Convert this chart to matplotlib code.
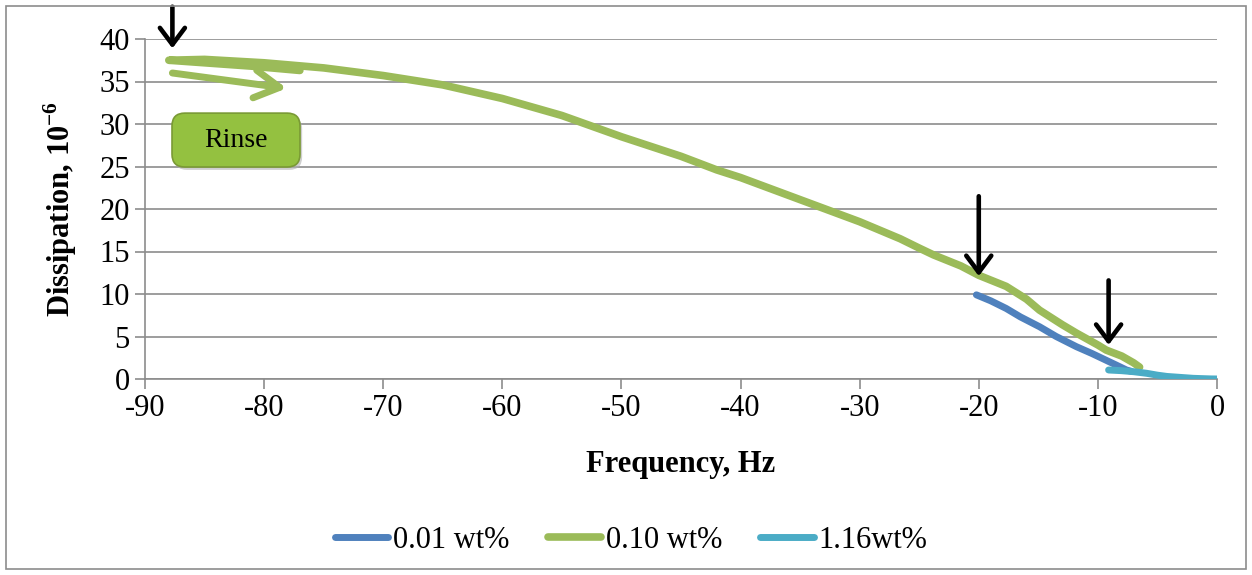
import numpy as np
import matplotlib.pyplot as plt
from matplotlib.patches import Rectangle, FancyBboxPatch

# 0.10 wt%: adsorption from -6.5 Hz out to -88 Hz, then rinse back to -77 Hz
f_010 = [-6.5, -7.0, -8.0, -9.3, -10.0, -11.8, -13.0, -14.9, -16.0, -17.7, -20.0, -21.5, -23.8,
         -25.0, -26.6, -30.0, -35.0, -40.0, -42.0, -45.0, -50.0, -55.0, -60.0, -65.0, -70.0,
         -75.0, -80.0, -85.0, -88.0, -85.0, -81.0, -77.0]
d_010 = [1.4, 1.9, 2.7, 3.4, 4.0, 5.4, 6.4, 8.1, 9.4, 10.9, 12.2, 13.3, 14.6,
         15.4, 16.5, 18.5, 21.1, 23.7, 24.6, 26.2, 28.5, 31.0, 33.0, 34.6, 35.7,
         36.6, 37.2, 37.6, 37.5, 37.2, 36.8, 36.3]

# 0.01 wt%
f_001 = [-20.2, -19.0, -17.7, -16.5, -14.9, -13.5, -11.8, -10.5, -9.3, -8.4, -7.6, -7.2]
d_001 = [9.9, 9.2, 8.3, 7.3, 6.15, 5.0, 3.8, 3.0, 2.2, 1.6, 1.06, 0.9]

# 1.16 wt%
f_116 = [-9.1, -8.0, -7.0, -5.9, -5.0, -4.2, -3.0, -2.0, -1.4, -0.5, 0.0]
d_116 = [1.06, 0.98, 0.86, 0.67, 0.45, 0.3, 0.18, 0.08, 0.05, 0.01, 0.0]

# black arrows: (x, y_start, y_tip)
arrows = [(-87.7, 43.8, 38.9), (-20.0, 21.5, 12.1), (-9.1, 11.6, 4.0)]

c_blue = '#4f81bd'
c_green = '#9bbb59'
c_cyan = '#4bacc6'
grid_c = '#8c8c8c'

plt.rcParams['font.family'] = ['Liberation Serif', 'DejaVu Serif']
plt.rcParams['axes.unicode_minus'] = False
plt.rcParams['mathtext.fontset'] = 'custom'
plt.rcParams['mathtext.rm'] = 'Liberation Serif'
plt.rcParams['mathtext.bf'] = 'Liberation Serif:bold'

fig = plt.figure(figsize=(12.52, 5.75), dpi=100)
ax = fig.add_axes([145/1252, 196/575, 1072/1252, 340/575])

ax.plot(f_001, d_001, color=c_blue, lw=5, solid_capstyle='round', label='0.01 wt%', zorder=3)
ax.plot(f_010, d_010, color=c_green, lw=5.5, solid_capstyle='round', label='0.10 wt%', zorder=2)
ax.plot(f_116, d_116, color=c_cyan, lw=5, solid_capstyle='round', label='1.16wt%', zorder=4)

ax.set_xlim(-90, 0)
ax.set_ylim(0, 40)
ax.set_xticks(np.arange(-90, 1, 10))
ax.set_yticks(np.arange(0, 41, 5))
ax.yaxis.grid(True, color=grid_c, lw=1.2)
ax.set_axisbelow(True)
for s in ['top', 'right']:
    ax.spines[s].set_visible(False)
for s in ['left', 'bottom']:
    ax.spines[s].set_color(grid_c)
    ax.spines[s].set_linewidth(1.2)
ax.tick_params(axis='both', direction='out', color=grid_c, width=1.2, length=7,
               labelsize=22, pad=4)

ax.set_xlabel('Frequency, Hz', fontsize=22, fontweight='bold')
ax.set_ylabel('Dissipation, 10$^{\\mathbf{-6}}$', fontsize=22, fontweight='bold')
ax.xaxis.set_label_coords(0.5, -0.21)
ax.yaxis.set_label_coords(-0.062, 0.5)

for x, y0, y1 in arrows:
    ax.annotate('', xy=(x, y1), xytext=(x, y0), annotation_clip=False,
                arrowprops=dict(arrowstyle='->,head_length=0.6,head_width=0.45',
                                mutation_scale=20, color='black', lw=3.3,
                                shrinkA=0, shrinkB=0))

# green rinse arrow
ax.annotate('', xy=(-78.1, 34.2), xytext=(-87.7, 36.0),
            arrowprops=dict(arrowstyle='->,head_length=0.9,head_width=0.5',
                            mutation_scale=20, color=c_green, lw=5,
                            shrinkA=0, shrinkB=0, capstyle='round'))

# Rinse button
shadow = FancyBboxPatch((0.0272, 0.615), 0.1194, 0.1585, transform=ax.transAxes,
                        boxstyle='round,pad=0,rounding_size=0.012', mutation_aspect=3.15,
                        facecolor='#b0b0b0', edgecolor='none', alpha=0.6, zorder=5)
box = FancyBboxPatch((0.0252, 0.6235), 0.1194, 0.1585, transform=ax.transAxes,
                     boxstyle='round,pad=0,rounding_size=0.012', mutation_aspect=3.15,
                     facecolor='#94c140', edgecolor='#7a9a35', lw=1.2, zorder=6)
ax.add_patch(shadow)
ax.add_patch(box)
ax.text(0.0849, 0.7027, 'Rinse', transform=ax.transAxes, fontsize=20,
        ha='center', va='center', zorder=7)

fig.legend(*ax.get_legend_handles_labels(), loc='center',
           bbox_to_anchor=(631/1252, 1 - 540/575), ncol=3, frameon=False,
           fontsize=22, handlelength=1.75, handletextpad=0.15, columnspacing=1.25)

fig.patches.append(Rectangle((6/1252, 6/575), 1 - 12/1252, 1 - 12/575,
                             transform=fig.transFigure, fill=False,
                             edgecolor='#8c8c8c', lw=1.2))

fig.savefig('out.png', dpi=100)
